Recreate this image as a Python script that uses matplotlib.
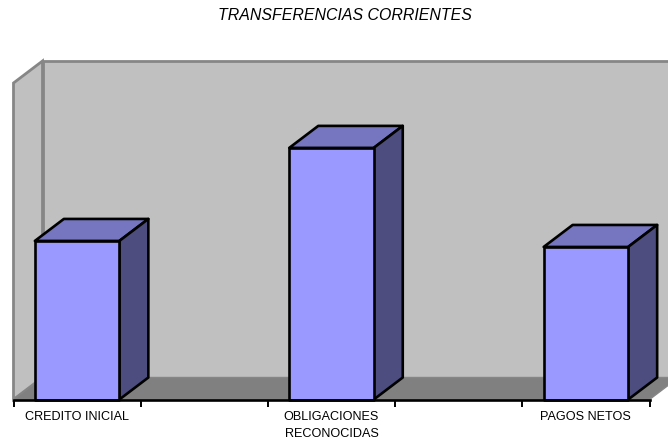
import matplotlib
matplotlib.use('Agg')
import matplotlib.pyplot as plt

plt.rcParams['font.family'] = ['Liberation Sans', 'DejaVu Sans']

title = 'TRANSFERENCIAS CORRIENTES'
categories = ['CREDITO INICIAL', 'OBLIGACIONES\nRECONOCIDAS', 'PAGOS NETOS']
slots = [0, 2, 4]
values = [50.1, 79.5, 48.2]

W, H = 668, 440
x0, x1 = 13.5, 649.5
y0, y1 = 399.5, 83

# 3D look: offset of the back plane, in data units
depth_x = 29 / 127.2
depth_y = 22 / 316.5 * 100
bar_w = 84.5 / 127.2

wall = '#C0C0C0'
wall_edge = '#868686'
floor = '#808080'
front = '#9999FF'
top = '#7575C0'
side = '#4D4D80'

fig = plt.figure(figsize=(W / 100, H / 100), dpi=100)
ax = fig.add_axes([x0 / W, 1 - y0 / H, (x1 - x0) / W, (y0 - y1) / H])
ax.set_xlim(0, 5)
ax.set_ylim(0, 100)
for s in ax.spines.values():
    s.set_visible(False)

dx, dy = depth_x, depth_y
# walls and floor
ax.fill([0, dx, dx, 0], [0, dy, 100 + dy, 100], fc=wall, ec=wall_edge, lw=2, clip_on=False, joinstyle='miter', zorder=1)
ax.fill([dx, 5 + dx, 5 + dx, dx], [dy, dy, 100 + dy, 100 + dy], fc=wall, ec=wall_edge, lw=2, clip_on=False, joinstyle='miter', zorder=1)
ax.fill([0, 5, 5 + dx, dx], [0, 0, dy, dy], fc=floor, ec=wall_edge, lw=1, clip_on=False, zorder=2)

# bars
for s, v in zip(slots, values):
    a = s + 0.5 - bar_w / 2
    b = s + 0.5 + bar_w / 2
    ax.fill([a, b, b + dx, a + dx], [v, v, v + dy, v + dy], fc=top, ec='black', lw=1.9, joinstyle='round', clip_on=False, zorder=3)
    ax.fill([b, b + dx, b + dx, b], [0, dy, v + dy, v], fc=side, ec='black', lw=1.9, joinstyle='round', clip_on=False, zorder=3)
    ax.fill([a, b, b, a], [0, 0, v, v], fc=front, ec='black', lw=1.9, joinstyle='round', clip_on=False, zorder=4)

# axis line and ticks
ax.plot([0, 5], [0, 0], color='black', lw=1.9, clip_on=False, zorder=5)
ax.set_xticks(range(6))
ax.set_xticklabels([])
ax.set_yticks([])
ax.tick_params(axis='x', length=5, width=1.4, color='black')
for s, c in zip(slots, categories):
    ax.annotate(c, (s + 0.5, 0), xytext=(0, -8.3), textcoords='offset points', ha='center', va='top',
                fontsize=9.1, color='black', linespacing=1.5, annotation_clip=False)

fig.text(345 / W, 1 - 15 / H, title, ha='center', va='center', fontsize=11.4, style='italic', color='black')

fig.savefig('out.png', dpi=100, facecolor='white')
